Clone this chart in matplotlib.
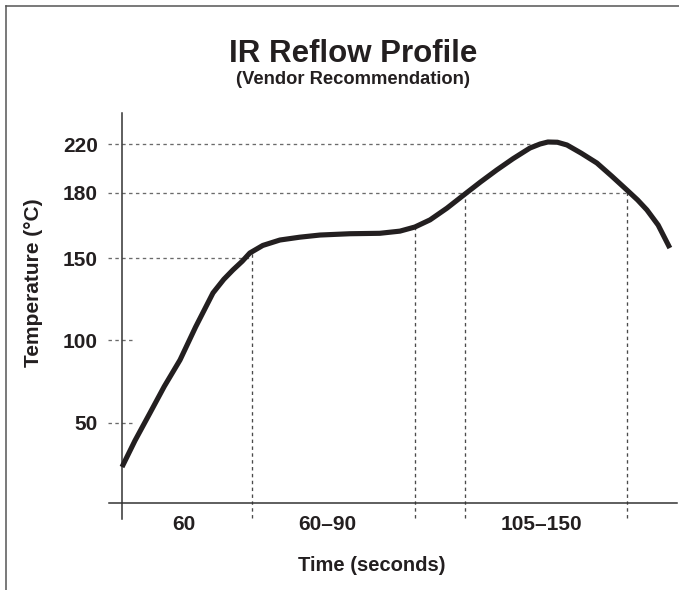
import numpy as np
import matplotlib
matplotlib.use("Agg")
import matplotlib.pyplot as plt
from matplotlib.lines import Line2D

plt.rcParams['font.family'] = ['Liberation Sans', 'DejaVu Sans']
plt.rcParams['font.weight'] = 'bold'

# profile (time in s, temperature in degC)
time_s = [0, 6.0, 12.9, 19.5, 26.8, 34.0, 42.0, 47.0, 51.2, 55.5, 59.0, 65.0, 72.9,
          82.0, 91.4, 105.2, 119.0, 128.3, 135.2, 142.2, 150.0, 158.3, 165.5, 173.0,
          180.5, 188.3, 193.0, 196.6, 201.0, 205.4, 212.0, 219.2, 226.0, 233.1,
          238.0, 242.3, 247.5, 252.9]
temp_c = [22.5, 39.0, 56.0, 72.0, 88.0, 108.0, 128.7, 137.0, 142.7, 148.0, 152.3, 155.8, 158.3,
          159.6, 160.6, 161.2, 161.4, 162.4, 164.3, 167.6, 173.0, 179.5, 189.0, 198.8,
          208.0, 216.7, 220.0, 221.6, 221.4, 219.2, 212.5, 204.5, 193.9, 182.4,
          176.8, 172.2, 165.2, 154.6]

y_ticks = [50, 100, 150, 180, 220]
y_guide_end = [4.5, 5.5, 59.0, 233.1, 191.5]  # where each horizontal guide stops
x_marks = [60, 135.2, 158.3, 233.1]
x_mark_top = [152.7, 164.3, 179.5, 180.0]
phase_labels = ["60", "60\u201390", "105\u2013150"]
phase_pos = [28.6, 95.0, 193.8]

# the temperature axis in the drawing is schematic, not linear
T_KNOTS = [-50, 0, 50, 100, 150, 180, 220, 300]
P_KNOTS = [-80, 0, 80, 163, 245, 310, 359, 459]


def fwd(t):
    return np.interp(t, T_KNOTS, P_KNOTS)


def inv(p):
    return np.interp(p, P_KNOTS, T_KNOTS)


W, H = 679, 590
fig = plt.figure(figsize=(W / 100, H / 100), dpi=100)
ax = fig.add_axes([122 / W, (H - 503) / H, (677 - 122) / W, (503 - 113) / H])
ax.set_yscale('function', functions=(fwd, inv))
ax.set_xlim(0, 256.2)
ax.set_ylim(0, 244.8)

for s in ax.spines.values():
    s.set_visible(False)

ink = '#231f20'
ax.plot(time_s, temp_c, color=ink, lw=3.7, solid_capstyle='butt',
        solid_joinstyle='round', clip_on=False, zorder=5)

dash = (0, (2.6, 2.6))
for yv, xe in zip(y_ticks, y_guide_end):
    ax.plot([-6.5, xe], [yv, yv], color='#6a6a6a', lw=0.95, ls=dash, clip_on=False)
for xv, yt in zip(x_marks, x_mark_top):
    ax.plot([xv, xv], [-9.5, yt], color='#4a4a4a', lw=0.95, ls=dash, clip_on=False)

# axis lines: x axis runs a little left of the y axis, y axis a little below x axis
ax.plot([-6.0, 256.2], [0, 0], color='#333333', lw=1.1, clip_on=False)
ax.plot([0, 0], [-10.0, 244.8], color='#333333', lw=1.1, clip_on=False)

ax.set_yticks(y_ticks)
ax.set_yticklabels([str(v) for v in y_ticks], fontsize=15, fontweight='bold', color=ink)
ax.tick_params(axis='y', length=0, pad=17.5)
ax.set_xticks([])

xt = ax.get_xaxis_transform()
for lab, xp in zip(phase_labels, phase_pos):
    ax.text(xp, -0.056, lab, transform=xt, ha='center', va='center',
            fontsize=15, fontweight='bold', color=ink)
ax.text(115.4, -0.159, "Time (seconds)", transform=xt, ha='center', va='center',
        fontsize=14.5, fontweight='bold', color=ink)

fig.text(34 / W, 1 - 283 / H, "Temperature (\u00b0C)", rotation=90, ha='center', va='center',
         fontsize=15, fontweight='bold', color=ink)
fig.text(353 / W, 1 - 54 / H, "IR Reflow Profile", ha='center', va='center',
         fontsize=22.5, fontweight='bold', color=ink)
fig.text(353 / W, 1 - 80 / H, "(Vendor Recommendation)", ha='center', va='center',
         fontsize=13.2, fontweight='bold', color=ink)

# page frame: top and left edges only
fig.add_artist(Line2D([6 / W, 1.0], [1 - 5.5 / H, 1 - 5.5 / H], transform=fig.transFigure,
                      color='#555555', lw=1.1))
fig.add_artist(Line2D([6 / W, 6 / W], [0, 1 - 5.5 / H], transform=fig.transFigure,
                      color='#555555', lw=1.1))

fig.savefig("out.png", dpi=100)
